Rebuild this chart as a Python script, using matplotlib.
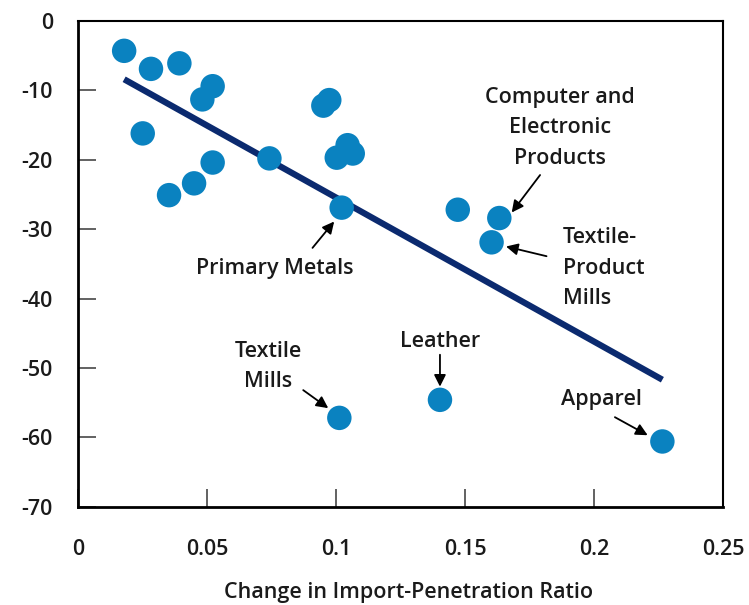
import matplotlib
matplotlib.use("Agg")
import matplotlib.pyplot as plt

plt.rcParams['axes.unicode_minus'] = False
plt.rcParams['font.family'] = ['Open Sans', 'DejaVu Sans']
plt.rcParams['font.weight'] = 'semibold'

# change in import-penetration ratio vs employment change (%)
ratio = [0.0179, 0.0283, 0.0393, 0.0522, 0.0482, 0.0251, 0.0353, 0.0450,
         0.0522, 0.0742, 0.0951, 0.0974, 0.1003, 0.1045, 0.1065, 0.1022,
         0.1472, 0.1633, 0.1603, 0.1013, 0.1403, 0.2265]
change = [-4.3, -6.9, -6.1, -9.4, -11.3, -16.2, -25.1, -23.4,
          -20.4, -19.8, -12.2, -11.4, -19.7, -17.9, -19.1, -26.9,
          -27.2, -28.4, -31.9, -57.2, -54.6, -60.6]

# fitted line end points
fit_x = [0.0179, 0.2265]
fit_y = [-8.4, -51.7]

# labels: text, text pos, arrow tail, arrow head, alignment
notes = [
    ("Primary Metals", (0.0764, -35.7), (0.0909, -32.7), (0.0993, -28.9), 'center'),
    ("Computer and\nElectronic\nProducts", (0.1868, -15.4), (0.1791, -22.2), (0.1681, -27.6), 'center'),
    ("Textile-\nProduct\nMills", (0.1879, -35.6), (0.1816, -33.9), (0.1659, -32.5), 'left'),
    ("Textile\nMills", (0.0738, -49.8), (0.0873, -53.2), (0.0970, -55.8), 'center'),
    ("Leather", (0.1403, -46.2), (0.1403, -48.1), (0.1403, -52.7), 'center'),
    ("Apparel", (0.2030, -54.5), (0.2081, -57.1), (0.2208, -59.7), 'center'),
]

fs = 15.5
fig = plt.figure(figsize=(7.49, 6.05), dpi=100)
ax = fig.add_axes([0.1041, 0.1625, 0.8612, 0.8028])

ax.plot(fit_x, fit_y, color='#0b2a6f', lw=4.5, solid_capstyle='butt', zorder=2)
ax.scatter(ratio, change, s=310, color='#0a82c0', edgecolors='none', zorder=3)

for txt, pos, tail, head, ha in notes:
    ax.text(pos[0], pos[1], txt, ha=ha, va='center', fontsize=fs,
            fontweight='semibold', color='#1a1a1a', linespacing=1.6)
    ax.annotate('', xy=head, xytext=tail,
                arrowprops=dict(arrowstyle='-|>,head_length=0.7,head_width=0.35',
                                color='black', lw=1.3, shrinkA=0, shrinkB=0))

ax.set_xlim(0, 0.25)
ax.set_ylim(-70, 0)
ax.set_xticks([0, 0.05, 0.1, 0.15, 0.2, 0.25])
ax.set_xticklabels(['0', '0.05', '0.1', '0.15', '0.2', '0.25'])
ax.set_yticks(range(-70, 1, 10))

ax.tick_params(direction='in', length=13, width=1.3, color='#555555',
               labelsize=fs, labelcolor='#1a1a1a')
ax.tick_params(axis='x', pad=23)
ax.tick_params(axis='y', pad=18)

for side in ['left', 'bottom']:
    ax.spines[side].set_linewidth(2)
for side in ['top', 'right']:
    ax.spines[side].set_linewidth(1.5)

ax.set_xlabel('Change in Import-Penetration Ratio', fontsize=fs,
              fontweight='semibold', color='#1a1a1a')
ax.xaxis.set_label_coords(0.513, -0.155)

fig.savefig('out.png', dpi=100)
